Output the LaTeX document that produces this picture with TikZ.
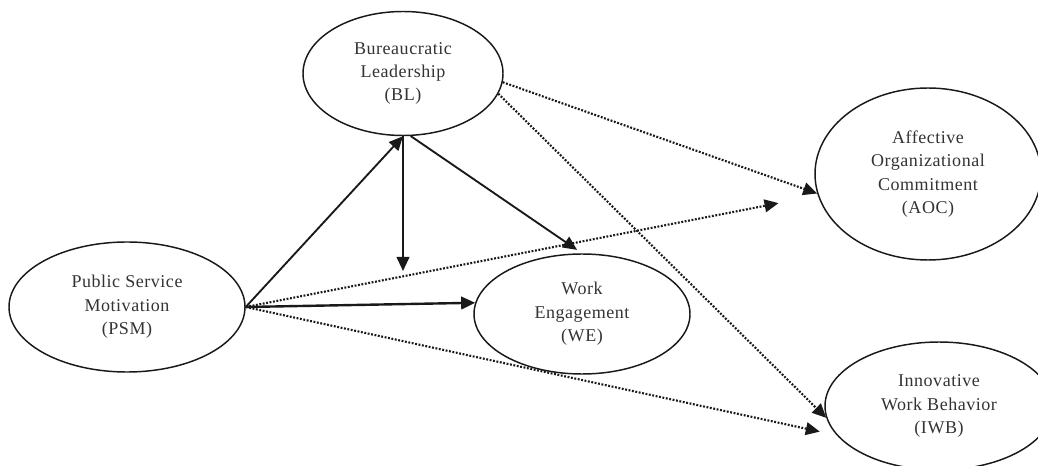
\documentclass[tikz,border=0pt]{standalone}
\usepackage{fontspec}
\setmainfont[LetterSpace=3]{Liberation Serif}
\usetikzlibrary{shapes.geometric,arrows.meta}

\tikzset{
	latent/.style={ellipse, draw=black!90, line width=1.1pt, inner sep=0pt, align=center,
			text=black!80, font=\fontsize{13.5}{17.5}\selectfont},
	effect/.style={draw=black!90, line width=1.4pt, -{Triangle[length=10.5pt, width=9.5pt]}},
	indirect/.style={effect, line width=1.6pt, dash pattern=on 1.4pt off 1.2pt},
}

\begin{document}
\begin{tikzpicture}[x=0.75pt, y=-0.75pt]
	\useasboundingbox (0,0) rectangle (1038,466);

	\node [latent, minimum width=177pt, minimum height=97.5pt] (psm) at (127,307) {Public Service\\Motivation\\(PSM)};
	\node [latent, minimum width=150pt, minimum height=93pt] (bl) at (403,73.5) {Bureaucratic\\Leadership\\(BL)};
	\node [latent, minimum width=162pt, minimum height=90pt] (we) at (582,314) {Work\\Engagement\\(WE)};
	\node [latent, minimum width=169.5pt, minimum height=129pt] (aoc) at (928,174) {Affective\\Organizational\\Commitment\\(AOC)};
	\node [latent, minimum width=171pt, minimum height=96pt] (iwb) at (939,406) {Innovative\\Work Behavior\\(IWB)};
	\coordinate (mod) at (403,271);

	% Solid paths
	\draw [effect] (psm.east) -- (bl.south);
	\draw [effect] (bl.south) -- (mod);
	\draw [effect, shorten >=4.5pt] (bl.-83) -- (we.north);
	\draw [effect, line width=1.8pt] (psm.east) -- (we.174);

	% Dotted paths to the outcomes
	\draw [indirect, shorten >=30pt] (psm.east) -- (aoc);
	\draw [indirect, shorten >=13pt] (psm.east) -- (iwb.196);
	\draw [indirect] (bl.-5) -- (aoc.190);
	\draw [indirect] (bl.-12) -- (iwb.186);
\end{tikzpicture}
\end{document}
